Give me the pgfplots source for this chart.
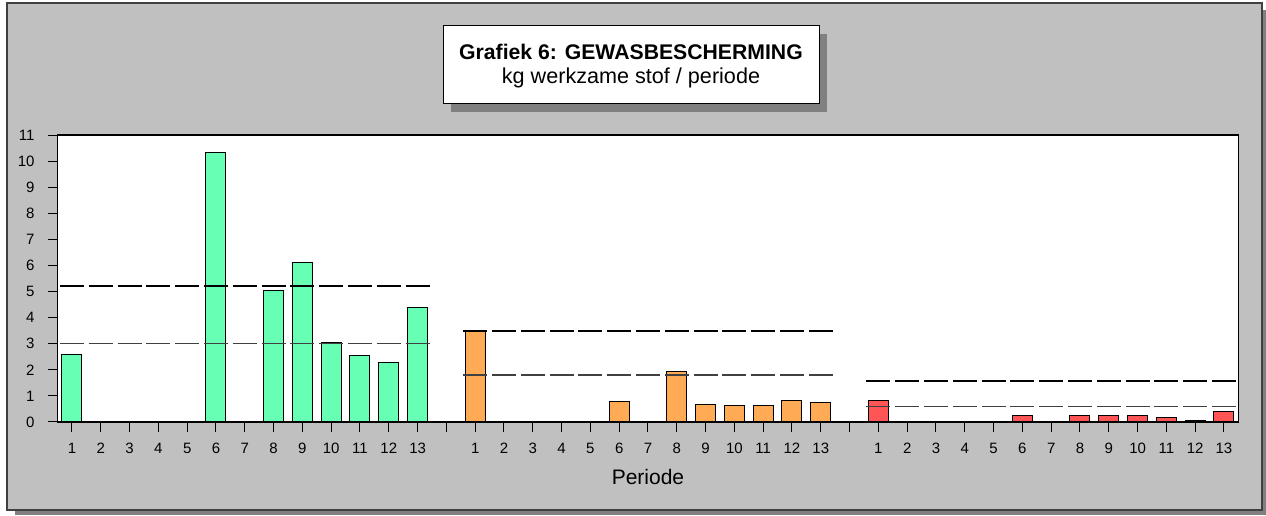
\documentclass[border=0pt]{standalone}
\usepackage{fontspec}
\setmainfont{Liberation Sans}
\usepackage{pgfplots}
\pgfplotsset{compat=1.18}
\definecolor{bggray}{HTML}{C0C0C0}
\definecolor{shadowgray}{HTML}{808080}
\definecolor{barg}{HTML}{66FFB3}
\definecolor{baro}{HTML}{FFAA55}
\definecolor{barr}{HTML}{FF5555}
\definecolor{shortdash}{HTML}{404040}
\begin{document}
\begin{tikzpicture}
\useasboundingbox (0pt,0pt) rectangle (633pt,257.5pt);
\fill[white] (0pt,0pt) rectangle (633pt,257.5pt);
\fill[shadowgray] (7.5pt,0pt) rectangle (633pt,252.5pt);
\filldraw[fill=bggray, draw=black!75, line width=0.7pt] (3.5pt,2.5pt) rectangle (631pt,256pt);
% title box
\fill[shadowgray] (225.5pt,201.5pt) rectangle (413.5pt,240.5pt);
\filldraw[fill=white, draw=black, line width=0.5pt] (221.5pt,205.5pt) rectangle (409.5pt,244.5pt);
\node[anchor=base, inner sep=0pt, font=\fontsize{10.6}{12}\selectfont\bfseries] at (315.5pt,227.85pt) {Grafiek 6: GEWASBESCHERMING};
\node[anchor=base, inner sep=0pt, font=\fontsize{10.8}{13}\selectfont] at (315.5pt,215.85pt) {kg werkzame stof / periode};
\begin{axis}[
  at={(28.8pt,46.5pt)}, anchor=south west,
  scale only axis, width=590.4pt, height=143.5pt,
  xmin=-0.5, xmax=40.5, ymin=0, ymax=11,
  xtick={0,...,40},
  xticklabels={1,2,3,4,5,6,7,8,9,10,11,12,13,,1,2,3,4,5,6,7,8,9,10,11,12,13,,1,2,3,4,5,6,7,8,9,10,11,12,13},
  ytick={0,...,11},
  tick align=outside, major tick length=5pt,
  xtick pos=bottom, ytick pos=left,
  tick style={black, line width=0.5pt},
  axis line style={black, line width=0.6pt},
  axis background/.style={fill=white},
  /pgf/number format/assume math mode=true,
  tick label style={font=\fontsize{7.5}{9}\selectfont},
  yticklabel style={xshift=-3pt},
  xticklabel style={yshift=-2pt},
  xlabel={Periode},
  x label style={at={(axis description cs:0.5,0)}, anchor=center, yshift=-27.5pt, font=\fontsize{10.5}{12}\selectfont},
  clip=false,
]
% group 1
\addplot[ybar, bar width=10pt, bar shift=0pt, fill=barg, draw=black, line width=0.5pt]
  coordinates {(0,2.6) (5,10.33) (7,5.05) (8,6.11) (9,3.05) (10,2.55) (11,2.27) (12,4.40)};
% group 2
\addplot[ybar, bar width=10pt, bar shift=0pt, fill=baro, draw=black, line width=0.5pt]
  coordinates {(14,3.46) (19,0.78) (21,1.93) (22,0.67) (23,0.64) (24,0.64) (25,0.83) (26,0.73)};
% group 3
\addplot[ybar, bar width=10pt, bar shift=0pt, fill=barr, draw=black, line width=0.5pt]
  coordinates {(28,0.84) (33,0.26) (35,0.23) (36,0.23) (37,0.23) (38,0.17) (39,0.04) (40,0.40)};
% reference lines
\addplot[black, line width=1pt, dash pattern=on 12pt off 2.4pt, dash phase=-1.2pt] coordinates {(-0.5,5.23) (12.5,5.23)};
\addplot[shortdash, line width=0.6pt, dash pattern=on 12pt off 2.4pt, dash phase=-1.2pt] coordinates {(-0.5,3.0) (12.5,3.0)};
\addplot[black, line width=1pt, dash pattern=on 12pt off 2.4pt, dash phase=-1.2pt] coordinates {(13.5,3.47) (26.5,3.47)};
\addplot[shortdash, line width=0.6pt, dash pattern=on 12pt off 2.4pt, dash phase=-1.2pt] coordinates {(13.5,1.8) (26.5,1.8)};
\addplot[black, line width=1pt, dash pattern=on 12pt off 2.4pt, dash phase=-1.2pt] coordinates {(27.5,1.57) (40.5,1.57)};
\addplot[shortdash, line width=0.6pt, dash pattern=on 12pt off 2.4pt, dash phase=-1.2pt] coordinates {(27.5,0.58) (40.5,0.58)};
\end{axis}
\end{tikzpicture}
\end{document}
